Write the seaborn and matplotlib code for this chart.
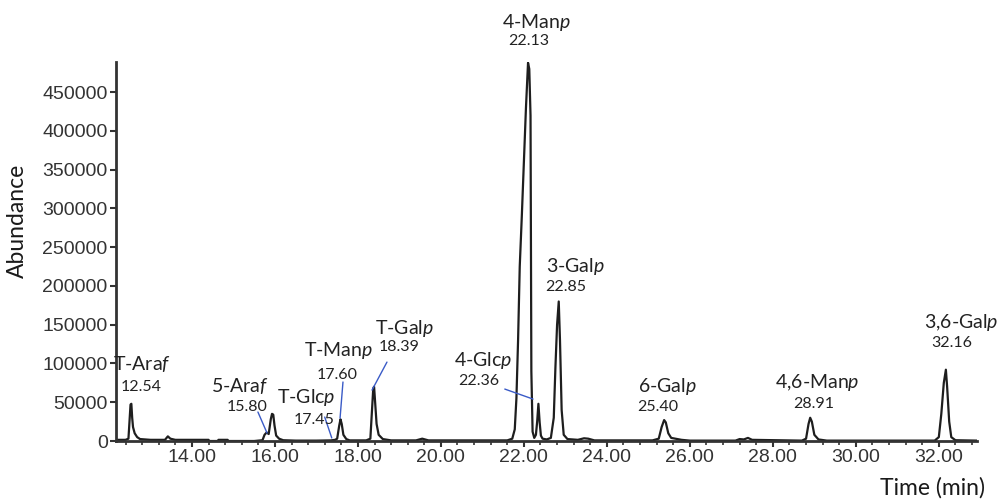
import matplotlib
matplotlib.use("Agg")
import matplotlib.pyplot as plt
import seaborn as sns
import pandas as pd
from matplotlib.ticker import MultipleLocator, FixedLocator

# chromatogram trace (time in min, abundance)
time_min = [
    12.17, 12.40, 12.47, 12.50, 12.52, 12.54, 12.56, 12.58, 12.62, 12.68, 12.75,
    13.00, 13.35, 13.42, 13.48, 13.60, 14.00, 14.40, 14.42, 14.62, 14.64, 14.86, 14.88,
    15.50, 15.70, 15.75, 15.80, 15.85, 15.90, 15.93, 15.96, 15.99, 16.03, 16.10, 16.20,
    16.50, 17.00, 17.35, 17.45, 17.50, 17.55, 17.58, 17.61, 17.65, 17.72, 17.80,
    18.20, 18.30, 18.34, 18.37, 18.39, 18.42, 18.45, 18.50, 18.60, 18.80,
    19.40, 19.55, 19.70, 20.60, 21.60, 21.72, 21.78, 21.82, 21.86, 21.90, 21.95,
    22.00, 22.05, 22.10, 22.13, 22.16, 22.18, 22.21, 22.25, 22.29, 22.32, 22.35,
    22.38, 22.41, 22.45, 22.55, 22.65, 22.72, 22.76, 22.80, 22.84, 22.87, 22.91,
    22.96, 23.05, 23.30, 23.45, 23.55, 23.70, 25.10, 25.25, 25.32, 25.38, 25.42,
    25.48, 25.55, 25.65, 25.80, 26.00, 27.10, 27.20, 27.30, 27.40, 27.50,
    28.70, 28.80, 28.86, 28.90, 28.94, 29.00, 29.10, 29.30,
    31.90, 32.00, 32.06, 32.12, 32.17, 32.20, 32.25, 32.30, 32.40, 32.92,
]
abundance = [
    1500, 1500, 3000, 30000, 47000, 48000, 30000, 18000, 10000, 5000, 2500,
    1500, 1500, 6000, 3000, 1500, 1500, 1500, 0, 0, 1500, 1500, 0,
    0, 1000, 8000, 11000, 9000, 28000, 35000, 34000, 20000, 7000, 3000, 1000,
    500, 500, 800, 1500, 3000, 20000, 28000, 22000, 8000, 2500, 800,
    800, 3000, 40000, 68000, 70000, 45000, 22000, 8000, 2500, 800,
    800, 3000, 800, 800, 800, 3000, 15000, 55000, 130000, 225000, 290000,
    360000, 430000, 488000, 480000, 420000, 90000, 12000, 4000, 8000, 25000, 48000,
    24000, 7000, 3000, 2000, 4000, 30000, 95000, 150000, 180000, 130000, 40000,
    8000, 2500, 1500, 3500, 3000, 800, 800, 3000, 18000, 27000, 24000,
    10000, 4000, 3000, 1500, 500, 500, 2500, 2000, 4000, 1500,
    500, 3000, 22000, 30000, 25000, 8000, 2000, 500,
    500, 5000, 35000, 75000, 92000, 70000, 25000, 5000, 1000, 500,
]

# peak labels
peak_names = ["T-Ara$\\mathit{f}$", "5-Ara$\\mathit{f}$", "T-Glc$\\mathit{p}$", "T-Man$\\mathit{p}$",
              "T-Gal$\\mathit{p}$", "4-Glc$\\mathit{p}$", "4-Man$\\mathit{p}$", "3-Gal$\\mathit{p}$",
              "6-Gal$\\mathit{p}$", "4,6-Man$\\mathit{p}$", "3,6-Gal$\\mathit{p}$"]
peak_rt = ["12.54", "15.80", "17.45", "17.60", "18.39", "22.36", "22.13", "22.85",
           "25.40", "28.91", "32.16"]
name_x = [12.80, 15.16, 16.75, 17.52, 19.13, 21.01, 22.31, 23.23, 25.45, 29.06, 32.55]
name_y = [99300, 70900, 56700, 117300, 145700, 104400, 540100, 225600, 70900, 76100, 153400]
rt_x = [12.77, 15.33, 16.94, 17.49, 18.99, 20.92, 22.12, 23.01, 25.23, 28.99, 32.31]
rt_y = [69600, 43800, 27100, 85100, 121200, 77300, 515600, 198500, 43800, 47700, 126300]

# blue leader lines (label -> peak)
leaders = [
    ((15.59, 37400), (15.81, 10300)),
    ((17.20, 30900), (17.37, 3900)),
    ((17.64, 76100), (17.57, 29600)),
    ((18.70, 101800), (18.34, 65700)),
    ((21.54, 67000), (22.22, 54100)),
]

sns.set_theme(style="ticks")
plt.rcParams["font.family"] = ["Lato", "DejaVu Sans"]
plt.rcParams["mathtext.fontset"] = "custom"
plt.rcParams["mathtext.rm"] = "Lato"
plt.rcParams["mathtext.it"] = "Lato:italic"

df = pd.DataFrame({"time": time_min, "abundance": abundance})

fig = plt.figure(figsize=(10, 5), dpi=100)
ax = fig.add_axes([0.116, 0.118, 0.861, 0.758])

sns.lineplot(data=df, x="time", y="abundance", ax=ax, color="#1e1e1e",
             linewidth=1.6, estimator=None, sort=False)

ax.set_xlim(12.17, 32.92)
ax.set_ylim(0, 489000)

sns.despine(ax=ax)
for side in ["left", "bottom"]:
    ax.spines[side].set_linewidth(2)
    ax.spines[side].set_color("#333333")

ax.xaxis.set_minor_locator(MultipleLocator(0.4))
ax.yaxis.set_major_locator(FixedLocator(range(0, 450001, 50000)))
ax.set_xticks(range(14, 33, 2))
ax.set_xticklabels([f"{v:.2f}" for v in range(14, 33, 2)])
ax.set_yticklabels([str(v) for v in range(0, 450001, 50000)])

tick_font = ["Liberation Sans", "DejaVu Sans"]
for lab in ax.get_xticklabels() + ax.get_yticklabels():
    lab.set_family(tick_font)
    lab.set_fontsize(14)
    lab.set_color("#333333")
ax.tick_params(axis="both", which="major", length=4, width=1.5, pad=2, colors="#333333")
ax.tick_params(axis="x", which="minor", length=3, width=1.2, colors="#333333")

ax.set_xlabel("Time (min)", fontsize=16.5, color="#1a1a1a", va="center", ha="center")
ax.set_ylabel("Abundance", fontsize=16.5, color="#1a1a1a", va="center", ha="center")
ax.xaxis.set_label_coords(0.948, -0.124)
ax.yaxis.set_label_coords(-0.114, 0.58)

for (x0, y0), (x1, y1) in leaders:
    ax.plot([x0, x1], [y0, y1], color="#3a5bc7", linewidth=1.0)

for name, rt, nx, ny, rx, ry in zip(peak_names, peak_rt, name_x, name_y, rt_x, rt_y):
    ax.text(nx, ny, name, fontsize=14, ha="center", va="center", color="#222222", clip_on=False)
    ax.text(rx, ry, rt, fontsize=11.5, ha="center", va="center", color="#222222", clip_on=False)

fig.savefig("out.png", dpi=100)
